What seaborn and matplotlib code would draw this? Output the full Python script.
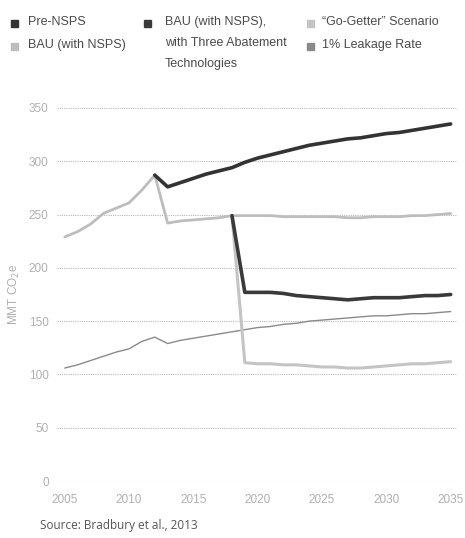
import numpy as np
import pandas as pd
import seaborn as sns
import matplotlib.pyplot as plt
from matplotlib.patches import Rectangle

# values (MMT CO2e)
hist_years = list(range(2005, 2013))
hist_vals = [229, 234, 241, 251, 256, 261, 273, 287]

pre_years = list(range(2012, 2036))
pre_nsps = [287, 276, 280, 284, 288, 291, 294, 299, 303, 306, 309, 312,
            315, 317, 319, 321, 322, 324, 326, 327, 329, 331, 333, 335]

bau_years = list(range(2012, 2036))
bau_nsps = [287, 242, 244, 245, 246, 247, 249, 249, 249, 249, 248, 248,
            248, 248, 248, 247, 247, 248, 248, 248, 249, 249, 250, 251]

abate_years = list(range(2018, 2036))
bau_three = [249, 177, 177, 177, 176, 174, 173, 172, 171, 170, 171, 172,
             172, 172, 173, 174, 174, 175]

gogetter = [249, 111, 110, 110, 109, 109, 108, 107, 107, 106, 106, 107,
            108, 109, 110, 110, 111, 112]

leak_years = list(range(2005, 2036))
leak_1pct = [106, 109, 113, 117, 121, 124, 131, 135, 129, 132, 134, 136,
             138, 140, 142, 144, 145, 147, 148, 150, 151, 152, 153, 154,
             155, 155, 156, 157, 157, 158, 159]

x_ticks = [2005, 2010, 2015, 2020, 2025, 2030, 2035]
y_ticks = [0, 50, 100, 150, 200, 250, 300, 350]

labels = ['Pre-NSPS', 'BAU (with NSPS)',
          'BAU (with NSPS),\nwith Three Abatement\nTechnologies',
          '\u201cGo-Getter\u201d Scenario', '1% Leakage Rate']
colors = ['#333333', '#bdbdbd', '#3a3a3a', '#c4c4c4', '#8a8a8a']

sns.set_theme(style='white')
plt.rcParams['font.family'] = ['Liberation Sans', 'DejaVu Sans']

W, H = 465, 538
fig = plt.figure(figsize=(W / 100, H / 100), dpi=100)
ax = fig.add_axes([0.1226, 0.1059, 0.8604, 0.6934])

sns.lineplot(x=hist_years, y=hist_vals, color=colors[1], lw=2, ax=ax)
sns.lineplot(x=bau_years, y=bau_nsps, color=colors[1], lw=2, ax=ax)
sns.lineplot(x=leak_years, y=leak_1pct, color=colors[4], lw=1, ax=ax)
sns.lineplot(x=abate_years, y=gogetter, color=colors[3], lw=2.2, ax=ax)
sns.lineplot(x=abate_years, y=bau_three, color=colors[2], lw=2.6, ax=ax)
sns.lineplot(x=pre_years, y=pre_nsps, color=colors[0], lw=2.6, ax=ax)

ax.set_xlim(2004.4, 2035.5)
ax.set_ylim(0, 350)
ax.set_xticks(x_ticks)
ax.set_yticks(y_ticks)
ax.set_xticklabels([str(t) for t in x_ticks])
ax.tick_params(axis='both', colors='#b0b0b0', labelsize=8.5, length=0)
ax.tick_params(axis='x', pad=9)
ax.tick_params(axis='y', pad=6)
ax.yaxis.grid(True, color='#b8b8b8', ls=(0, (1, 1)), lw=0.8)
ax.xaxis.grid(False)
for s in ax.spines.values():
    s.set_visible(False)
ax.set_ylabel('MMT CO$_2$e', color='#b0b0b0', fontsize=8.5, labelpad=5)

# legend drawn by hand: square marker + label, three columns
slots = [(14, 28, 23), (14, 28, 46), (147, 165, 23), (310, 322, 23), (310, 322, 46)]
for (mx, tx, ty), lab, c in zip(slots, labels, colors):
    fig.patches.append(Rectangle(((mx - 3.5) / W, 1 - (ty + 3.5) / H), 7 / W, 7 / H,
                                 transform=fig.transFigure, color=c))
    fig.text(tx / W, 1 - (ty - 7) / H, lab, fontsize=9, color='#4a4a4a',
             va='top', ha='left', linespacing=2.0)

fig.text(40 / W, 1 - 525 / H, 'Source: Bradbury et al., 2013', fontsize=8.5,
         color='#555555', va='center', family=['Open Sans', 'DejaVu Sans'])

fig.savefig('out.png', dpi=100)
